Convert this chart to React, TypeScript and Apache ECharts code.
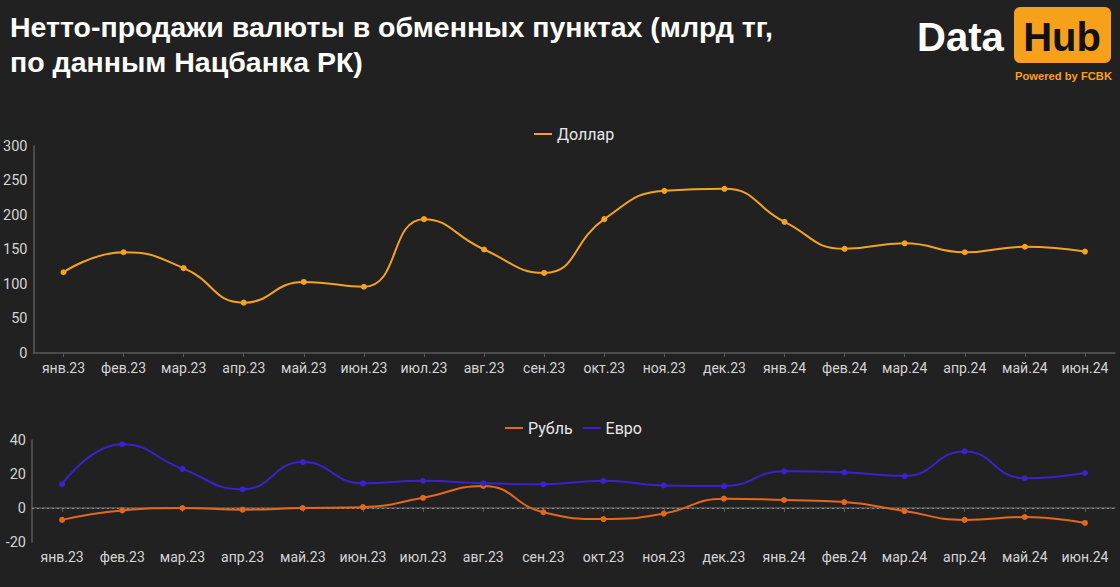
import React, { useEffect, useRef } from "react";
import * as echarts from "echarts";

const categories = ["янв.23", "фев.23", "мар.23", "апр.23", "май.23", "июн.23", "июл.23", "авг.23", "сен.23", "окт.23", "ноя.23", "дек.23", "янв.24", "фев.24", "мар.24", "апр.24", "май.24", "июн.24"];
const dollar = [117, 146, 123, 73, 103, 96, 194, 150, 116, 194, 235, 238, 190, 151, 159, 146, 154, 147];
const ruble = [-7, -1.4, 0, -1, 0, 0.5, 6, 13, -2.5, -6.5, -3.3, 5.5, 4.7, 3.5, -1.8, -7, -5.3, -8.8];
const euro = [14, 37.5, 23, 11, 27, 14.5, 16, 14.5, 14, 16, 13.3, 12.9, 21.6, 21, 18.8, 33.3, 17.5, 20.6];
const topTicks = { min: 0, max: 300, interval: 50 };
const bottomTicks = { min: -20, max: 40, interval: 20 };

const BG = "#212121";
const C_DOLLAR = "#F2A31F";
const C_RUBLE = "#E2691C";
const C_EURO = "#3A22D0";
const AXIS_LINE = "#5a5a5a";
const LABEL = "#d4d4d4";
const FONT = "Roboto";

export default function App() {
  const ref = useRef<HTMLDivElement>(null);
  useEffect(() => {
    document.body.style.margin = "0";
    const chart = echarts.init(ref.current!, null, { renderer: "svg" });
    const xAxisBase = {
      type: "category" as const,
      data: categories,
      boundaryGap: true,
      axisLine: { show: true, lineStyle: { color: AXIS_LINE, width: 1.5 } },
      axisTick: { show: true, alignWithLabel: true, length: 4, lineStyle: { color: AXIS_LINE } },
      axisLabel: { color: LABEL, fontSize: 14, fontFamily: FONT, margin: 8, interval: 0 },
      splitLine: { show: false },
    };
    const yAxisBase = {
      type: "value" as const,
      axisLine: { show: true, lineStyle: { color: AXIS_LINE, width: 1.5 } },
      axisTick: { show: false },
      axisLabel: { color: LABEL, fontSize: 14.5, fontFamily: FONT, margin: 6 },
      splitLine: { show: false },
    };
    const legendText = { color: "#e8e8e8", fontSize: 16, fontFamily: FONT };
    chart.setOption({
      animation: false,
      backgroundColor: BG,
      textStyle: { fontFamily: FONT },
      title: {
        text: "Нетто-продажи валюты в обменных пунктах (млрд тг,\nпо данным Нацбанка РК)",
        left: 5,
        top: 4,
        textStyle: { color: "#ffffff", fontSize: 28.5, fontWeight: "bold", lineHeight: 35, fontFamily: "Liberation Sans" },
      },
      legend: [
        {
          data: ["Доллар"],
          left: 529,
          top: 121,
          icon: "rect",
          itemWidth: 18,
          itemHeight: 2,
          itemGap: 10,
          textStyle: legendText,
        },
        {
          data: ["Рубль", "Евро"],
          left: 500,
          top: 415,
          icon: "rect",
          itemWidth: 18,
          itemHeight: 2,
          itemGap: 10,
          textStyle: legendText,
        },
      ],
      grid: [
        { left: 32, right: 5, top: 146, height: 207, containLabel: false },
        { left: 32, right: 5, top: 440, height: 102, containLabel: false },
      ],
      xAxis: [
        { ...xAxisBase, gridIndex: 0 },
        { ...xAxisBase, gridIndex: 1 },
      ],
      yAxis: [
        { ...yAxisBase, gridIndex: 0, ...topTicks },
        { ...yAxisBase, gridIndex: 1, ...bottomTicks },
      ],
      series: [
        {
          name: "Доллар",
          type: "line",
          xAxisIndex: 0,
          yAxisIndex: 0,
          data: dollar,
          smooth: 0.5,
          symbol: "circle",
          symbolSize: 6,
          lineStyle: { color: C_DOLLAR, width: 2 },
          itemStyle: { color: C_DOLLAR },
        },
        {
          name: "Рубль",
          type: "line",
          xAxisIndex: 1,
          yAxisIndex: 1,
          data: ruble,
          smooth: 0.5,
          symbol: "circle",
          symbolSize: 6,
          z: 3,
          lineStyle: { color: C_RUBLE, width: 2 },
          itemStyle: { color: C_RUBLE },
          markLine: {
            silent: true,
            symbol: "none",
            label: { show: false },
            lineStyle: { color: "#8a8a8a", type: [2, 3], width: 1 },
            data: [{ yAxis: 0 }],
            z: 1,
          },
        },
        {
          name: "Евро",
          type: "line",
          xAxisIndex: 1,
          yAxisIndex: 1,
          data: euro,
          smooth: 0.5,
          symbol: "circle",
          symbolSize: 6,
          lineStyle: { color: C_EURO, width: 2 },
          itemStyle: { color: C_EURO },
        },
      ],
      graphic: [
        {
          type: "text",
          x: 917,
          y: 37,
          style: { text: "Data", fill: "#ffffff", font: "bold 40px 'Liberation Sans'", verticalAlign: "middle" },
        },
        {
          type: "rect",
          shape: { x: 1014, y: 7, width: 97, height: 56, r: 6 },
          style: { fill: "#F7A01A" },
        },
        {
          type: "text",
          x: 1062,
          y: 37,
          style: { text: "Hub", fill: "#111111", font: "bold 40px 'Liberation Sans'", align: "center", verticalAlign: "middle" },
        },
        {
          type: "text",
          x: 1112,
          y: 76,
          style: { text: "Powered by FCBK", fill: "#F7A01A", font: "bold 11.2px 'Liberation Sans'", align: "right", verticalAlign: "middle" },
        },
      ],
    });
    return () => chart.dispose();
  }, []);
  return <div ref={ref} style={{ width: 1120, height: 587, position: "absolute", left: 0, top: 0 }} />;
}
